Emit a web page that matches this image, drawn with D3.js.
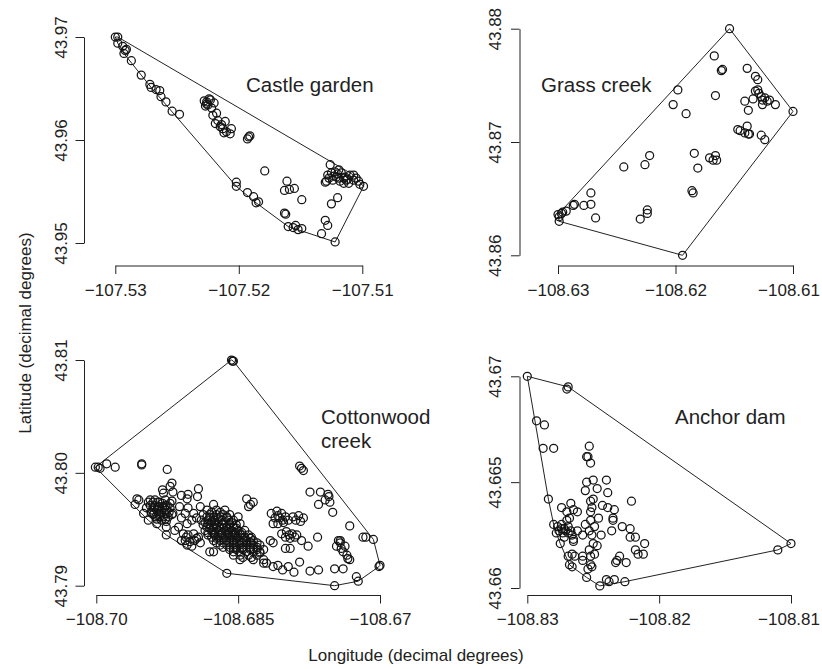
<!DOCTYPE html>
<html>
<head>
<meta charset="utf-8">
<script src="https://cdn.jsdelivr.net/npm/d3@7"></script>
<style>
  body { margin: 0; background: #fff; }
  svg { display: block; }
</style>
</head>
<body>
<svg id="chart" width="822" height="669"></svg>
<script>
// ===================================================================
// Data: [longitude, latitude] of each location

const castleGarden = [
  [-107.5300, 43.9700], [-107.5298, 43.9700], [-107.5298, 43.9694], [-107.5294, 43.9691],
  [-107.5292, 43.9687], [-107.5293, 43.9684], [-107.5291, 43.9688], [-107.5287, 43.9677],
  [-107.5279, 43.9663], [-107.5272, 43.9654], [-107.5271, 43.9651], [-107.5267, 43.9649],
  [-107.5264, 43.9648], [-107.5263, 43.9642], [-107.5259, 43.9637], [-107.5254, 43.9628],
  [-107.5248, 43.9625],
  [-107.5226, 43.9637], [-107.5225, 43.9634], [-107.5223, 43.9639], [-107.5227, 43.9633],
  [-107.5222, 43.9631], [-107.5221, 43.9624], [-107.5218, 43.9626], [-107.5217, 43.9619],
  [-107.5219, 43.9616], [-107.5214, 43.9615], [-107.5213, 43.9611], [-107.5210, 43.9608],
  [-107.5207, 43.9606], [-107.5206, 43.9611], [-107.5211, 43.9618], [-107.5215, 43.9613],
  [-107.5212, 43.9607], [-107.5228, 43.9638], [-107.5224, 43.9640], [-107.5226, 43.9635],
  [-107.5220, 43.9636],
  [-107.5192, 43.9603], [-107.5191, 43.9604], [-107.5193, 43.9601],
  [-107.5179, 43.9570], [-107.5202, 43.9559], [-107.5202, 43.9555],
  [-107.5193, 43.9549], [-107.5188, 43.9545], [-107.5184, 43.9540], [-107.5186, 43.9539],
  [-107.5161, 43.9560], [-107.5163, 43.9551], [-107.5159, 43.9552], [-107.5155, 43.9553],
  [-107.5149, 43.9542], [-107.5163, 43.9529], [-107.5162, 43.9528],
  [-107.5160, 43.9516], [-107.5156, 43.9515], [-107.5152, 43.9513], [-107.5149, 43.9514],
  [-107.5154, 43.9517], [-107.5133, 43.9509], [-107.5130, 43.9522], [-107.5128, 43.9517],
  [-107.5122, 43.9501], [-107.5125, 43.9538], [-107.5120, 43.9544],
  [-107.5126, 43.9576], [-107.5128, 43.9566], [-107.5129, 43.9560], [-107.5125, 43.9568],
  [-107.5124, 43.9561], [-107.5121, 43.9564], [-107.5118, 43.9560], [-107.5115, 43.9558],
  [-107.5113, 43.9561], [-107.5110, 43.9566], [-107.5107, 43.9561], [-107.5105, 43.9563],
  [-107.5103, 43.9560], [-107.5102, 43.9557], [-107.5099, 43.9555], [-107.5122, 43.9569],
  [-107.5119, 43.9571], [-107.5117, 43.9568], [-107.5114, 43.9564], [-107.5111, 43.9558],
  [-107.5130, 43.9559], [-107.5123, 43.9565], [-107.5119, 43.9563], [-107.5115, 43.9563],
  [-107.5107, 43.9566], [-107.5127, 43.9563], [-107.5120, 43.9567], [-107.5112, 43.9562]
]

const grassCreek = [
  [-108.6154, 43.8800], [-108.6100, 43.8727], [-108.6194, 43.8600], [-108.6299, 43.8630],
  [-108.6299, 43.8634], [-108.6300, 43.8636], [-108.6297, 43.8637], [-108.6296, 43.8638],
  [-108.6293, 43.8639], [-108.6287, 43.8644], [-108.6286, 43.8645], [-108.6278, 43.8644],
  [-108.6272, 43.8645], [-108.6272, 43.8655], [-108.6268, 43.8633], [-108.6244, 43.8678],
  [-108.6226, 43.8680], [-108.6222, 43.8688], [-108.6230, 43.8632], [-108.6224, 43.8640],
  [-108.6224, 43.8637], [-108.6202, 43.8733], [-108.6198, 43.8746], [-108.6191, 43.8725],
  [-108.6186, 43.8657], [-108.6185, 43.8655], [-108.6184, 43.8690], [-108.6181, 43.8677],
  [-108.6171, 43.8686], [-108.6168, 43.8684], [-108.6166, 43.8688], [-108.6165, 43.8684],
  [-108.6167, 43.8776], [-108.6160, 43.8764], [-108.6161, 43.8763], [-108.6166, 43.8741],
  [-108.6139, 43.8765], [-108.6132, 43.8758], [-108.6130, 43.8755], [-108.6130, 43.8746],
  [-108.6129, 43.8743], [-108.6127, 43.8740], [-108.6126, 43.8737], [-108.6124, 43.8739],
  [-108.6122, 43.8736], [-108.6120, 43.8737], [-108.6115, 43.8733], [-108.6134, 43.8738],
  [-108.6141, 43.8736], [-108.6138, 43.8728], [-108.6132, 43.8745], [-108.6126, 43.8733],
  [-108.6147, 43.8711], [-108.6145, 43.8710], [-108.6141, 43.8708], [-108.6138, 43.8707],
  [-108.6137, 43.8707], [-108.6139, 43.8714], [-108.6127, 43.8706], [-108.6124, 43.8702]
]

const cottonwoodCreek = [
  [-108.6856, 43.8099], [-108.6857, 43.8100], [-108.6855, 43.8099],
  [-108.7001, 43.8005], [-108.6998, 43.8005], [-108.6996, 43.8004], [-108.6989, 43.8008],
  [-108.6980, 43.8005], [-108.6952, 43.8008], [-108.6952, 43.8007], [-108.6925, 43.8003],
  [-108.6920, 43.7991], [-108.6922, 43.7988], [-108.6919, 43.7983], [-108.6930, 43.7985],
  [-108.6929, 43.7982], [-108.6892, 43.7986], [-108.6903, 43.7981], [-108.6893, 43.7979],
  [-108.6910, 43.7980], [-108.6904, 43.7977], [-108.6876, 43.7972], [-108.6841, 43.7977],
  [-108.6837, 43.7972], [-108.6834, 43.7974], [-108.6839, 43.7970],
  [-108.6959, 43.7972], [-108.6957, 43.7977], [-108.6955, 43.7976], [-108.6950, 43.7964],
  [-108.6947, 43.7969], [-108.6945, 43.7958], [-108.6936, 43.7955], [-108.6926, 43.7952],
  [-108.6926, 43.7945], [-108.6917, 43.7949], [-108.6910, 43.7940], [-108.6880, 43.7930],
  [-108.6862, 43.7911],
  [-108.6943, 43.7976], [-108.6938, 43.7976], [-108.6933, 43.7974], [-108.6927, 43.7976],
  [-108.6922, 43.7973], [-108.6943, 43.7971], [-108.6938, 43.7971], [-108.6933, 43.7970],
  [-108.6927, 43.7971], [-108.6922, 43.7969], [-108.6919, 43.7964], [-108.6941, 43.7967],
  [-108.6936, 43.7967], [-108.6931, 43.7966], [-108.6926, 43.7967], [-108.6920, 43.7963],
  [-108.6940, 43.7963], [-108.6934, 43.7963], [-108.6929, 43.7961], [-108.6924, 43.7961],
  [-108.6936, 43.7959], [-108.6931, 43.7958], [-108.6926, 43.7957],
  [-108.6940, 43.7974], [-108.6935, 43.7974], [-108.6930, 43.7973], [-108.6925, 43.7971],
  [-108.6939, 43.7969], [-108.6934, 43.7969], [-108.6928, 43.7969], [-108.6939, 43.7964],
  [-108.6933, 43.7964], [-108.6928, 43.7964], [-108.6923, 43.7965], [-108.6933, 43.7961],
  [-108.6945, 43.7974], [-108.6920, 43.7975], [-108.6937, 43.7961], [-108.6927, 43.7959],
  [-108.6942, 43.7965], [-108.6930, 43.7969], [-108.6935, 43.7970], [-108.6926, 43.7964],
  [-108.6912, 43.7970], [-108.6906, 43.7964], [-108.6903, 43.7969], [-108.6897, 43.7964],
  [-108.6890, 43.7970], [-108.6894, 43.7960], [-108.6910, 43.7960], [-108.6904, 43.7955],
  [-108.6899, 43.7958], [-108.6913, 43.7952],
  [-108.6908, 43.7946], [-108.6903, 43.7945], [-108.6897, 43.7946], [-108.6892, 43.7943],
  [-108.6906, 43.7940], [-108.6901, 43.7939], [-108.6896, 43.7940], [-108.6890, 43.7938],
  [-108.6899, 43.7935], [-108.6904, 43.7936], [-108.6905, 43.7943], [-108.6894, 43.7942],
  [-108.6883, 43.7967], [-108.6873, 43.7967], [-108.6864, 43.7967],
  [-108.6887, 43.7963], [-108.6880, 43.7963], [-108.6873, 43.7963], [-108.6866, 43.7963],
  [-108.6859, 43.7963],
  [-108.6889, 43.7958], [-108.6882, 43.7958], [-108.6875, 43.7958], [-108.6867, 43.7958],
  [-108.6860, 43.7958], [-108.6855, 43.7958],
  [-108.6887, 43.7954], [-108.6880, 43.7954], [-108.6873, 43.7954], [-108.6866, 43.7954],
  [-108.6859, 43.7954], [-108.6852, 43.7954],
  [-108.6885, 43.7949], [-108.6878, 43.7949], [-108.6871, 43.7949], [-108.6864, 43.7949],
  [-108.6857, 43.7949], [-108.6850, 43.7949], [-108.6843, 43.7949],
  [-108.6882, 43.7945], [-108.6875, 43.7945], [-108.6867, 43.7945], [-108.6860, 43.7945],
  [-108.6853, 43.7945], [-108.6846, 43.7945], [-108.6839, 43.7945],
  [-108.6876, 43.7940], [-108.6869, 43.7940], [-108.6862, 43.7940], [-108.6855, 43.7940],
  [-108.6848, 43.7940], [-108.6841, 43.7940], [-108.6834, 43.7940],
  [-108.6869, 43.7936], [-108.6862, 43.7936], [-108.6855, 43.7936], [-108.6848, 43.7936],
  [-108.6841, 43.7936], [-108.6834, 43.7936], [-108.6827, 43.7936],
  [-108.6859, 43.7932], [-108.6852, 43.7932], [-108.6845, 43.7932], [-108.6837, 43.7932],
  [-108.6830, 43.7932], [-108.6823, 43.7932],
  [-108.6855, 43.7927], [-108.6848, 43.7927], [-108.6839, 43.7927], [-108.6830, 43.7927],
  [-108.6848, 43.7923], [-108.6834, 43.7923], [-108.6823, 43.7923],
  [-108.6878, 43.7965], [-108.6869, 43.7965],
  [-108.6883, 43.7961], [-108.6876, 43.7961], [-108.6869, 43.7961], [-108.6862, 43.7961],
  [-108.6885, 43.7956], [-108.6878, 43.7956], [-108.6871, 43.7956], [-108.6864, 43.7956],
  [-108.6857, 43.7956],
  [-108.6883, 43.7952], [-108.6876, 43.7952], [-108.6869, 43.7952], [-108.6862, 43.7952],
  [-108.6855, 43.7952],
  [-108.6882, 43.7947], [-108.6875, 43.7947], [-108.6867, 43.7947], [-108.6860, 43.7947],
  [-108.6853, 43.7947], [-108.6846, 43.7947],
  [-108.6878, 43.7943], [-108.6871, 43.7943], [-108.6864, 43.7943], [-108.6857, 43.7943],
  [-108.6850, 43.7943], [-108.6843, 43.7943], [-108.6836, 43.7943],
  [-108.6873, 43.7938], [-108.6866, 43.7938], [-108.6859, 43.7938], [-108.6852, 43.7938],
  [-108.6845, 43.7938], [-108.6837, 43.7938], [-108.6830, 43.7938],
  [-108.6866, 43.7934], [-108.6859, 43.7934], [-108.6852, 43.7934], [-108.6845, 43.7934],
  [-108.6837, 43.7934], [-108.6830, 43.7934],
  [-108.6855, 43.7930], [-108.6848, 43.7930], [-108.6841, 43.7930], [-108.6834, 43.7930],
  [-108.6827, 43.7930],
  [-108.6845, 43.7925], [-108.6836, 43.7925],
  [-108.6880, 43.7960], [-108.6871, 43.7960], [-108.6862, 43.7960],
  [-108.6882, 43.7955], [-108.6875, 43.7955], [-108.6867, 43.7955], [-108.6859, 43.7955],
  [-108.6880, 43.7951], [-108.6873, 43.7951], [-108.6866, 43.7951], [-108.6859, 43.7951],
  [-108.6852, 43.7951],
  [-108.6876, 43.7946], [-108.6869, 43.7946], [-108.6862, 43.7946], [-108.6855, 43.7946],
  [-108.6848, 43.7946],
  [-108.6873, 43.7942], [-108.6866, 43.7942], [-108.6859, 43.7942], [-108.6852, 43.7942],
  [-108.6845, 43.7942], [-108.6837, 43.7942],
  [-108.6855, 43.7938], [-108.6846, 43.7938], [-108.6836, 43.7938],
  [-108.6855, 43.7933], [-108.6846, 43.7933], [-108.6834, 43.7933],
  [-108.6850, 43.7961], [-108.6848, 43.7955], [-108.6876, 43.7930], [-108.6823, 43.7920],
  [-108.6827, 43.7929],
  [-108.6815, 43.7964], [-108.6809, 43.7966], [-108.6804, 43.7964], [-108.6811, 43.7960],
  [-108.6806, 43.7960], [-108.6800, 43.7961], [-108.6813, 43.7955], [-108.6808, 43.7955],
  [-108.6802, 43.7956], [-108.6797, 43.7958], [-108.6808, 43.7962], [-108.6803, 43.7958],
  [-108.6804, 43.7946], [-108.6799, 43.7948], [-108.6793, 43.7946], [-108.6788, 43.7945],
  [-108.6800, 43.7943], [-108.6795, 43.7942], [-108.6790, 43.7943], [-108.6796, 43.7945],
  [-108.6792, 43.7961], [-108.6786, 43.7962], [-108.6781, 43.7960], [-108.6789, 43.7958],
  [-108.6784, 43.7957],
  [-108.6813, 43.7938], [-108.6800, 43.7933], [-108.6795, 43.7933], [-108.6820, 43.7920],
  [-108.6813, 43.7917], [-108.6808, 43.7918], [-108.6803, 43.7914], [-108.6797, 43.7917],
  [-108.6791, 43.7912], [-108.6783, 43.7940], [-108.6776, 43.7935], [-108.6785, 43.7921],
  [-108.6774, 43.7913], [-108.6765, 43.7914], [-108.6766, 43.7943], [-108.6816, 43.7940],
  [-108.6785, 43.8006], [-108.6783, 43.8004], [-108.6781, 43.8002], [-108.6774, 43.7983],
  [-108.6763, 43.7983], [-108.6755, 43.7981], [-108.6754, 43.7979], [-108.6758, 43.7976],
  [-108.6765, 43.7972], [-108.6753, 43.7974], [-108.6750, 43.7965], [-108.6732, 43.7953],
  [-108.6718, 43.7943], [-108.6715, 43.7943], [-108.6707, 43.7941], [-108.6701, 43.7917],
  [-108.6700, 43.7918], [-108.6723, 43.7904], [-108.6725, 43.7908], [-108.6748, 43.7900],
  [-108.6739, 43.7915], [-108.6748, 43.7915],
  [-108.6744, 43.7940], [-108.6742, 43.7938], [-108.6746, 43.7935], [-108.6741, 43.7933],
  [-108.6739, 43.7930], [-108.6735, 43.7927], [-108.6734, 43.7924], [-108.6732, 43.7923],
  [-108.6737, 43.7935], [-108.6742, 43.7940]
]

const anchorDam = [
  [-108.8300, 43.6700], [-108.8269, 43.6695], [-108.8270, 43.6694], [-108.8293, 43.6679],
  [-108.8287, 43.6677], [-108.8288, 43.6666], [-108.8280, 43.6666], [-108.8253, 43.6667],
  [-108.8255, 43.6662], [-108.8254, 43.6662], [-108.8252, 43.6659], [-108.8255, 43.6650],
  [-108.8250, 43.6651], [-108.8240, 43.6651], [-108.8256, 43.6646], [-108.8247, 43.6647],
  [-108.8239, 43.6645], [-108.8284, 43.6642], [-108.8221, 43.6641], [-108.8250, 43.6642],
  [-108.8252, 43.6641], [-108.8251, 43.6638], [-108.8252, 43.6636], [-108.8243, 43.6639],
  [-108.8239, 43.6638], [-108.8234, 43.6637], [-108.8235, 43.6633], [-108.8235, 43.6632],
  [-108.8274, 43.6638], [-108.8267, 43.6640], [-108.8270, 43.6636], [-108.8265, 43.6637],
  [-108.8262, 43.6636], [-108.8268, 43.6633], [-108.8270, 43.6632], [-108.8246, 43.6633],
  [-108.8252, 43.6632], [-108.8249, 43.6629], [-108.8253, 43.6627], [-108.8256, 43.6630],
  [-108.8258, 43.6625], [-108.8251, 43.6625], [-108.8244, 43.6625], [-108.8236, 43.6627],
  [-108.8228, 43.6629], [-108.8222, 43.6628], [-108.8222, 43.6624], [-108.8218, 43.6624],
  [-108.8211, 43.6621], [-108.8218, 43.6618], [-108.8216, 43.6616], [-108.8212, 43.6616],
  [-108.8275, 43.6621], [-108.8265, 43.6623], [-108.8266, 43.6616], [-108.8264, 43.6615],
  [-108.8250, 43.6621], [-108.8247, 43.6620], [-108.8249, 43.6616], [-108.8252, 43.6615],
  [-108.8268, 43.6611], [-108.8252, 43.6611], [-108.8251, 43.6610], [-108.8254, 43.6609],
  [-108.8230, 43.6615], [-108.8232, 43.6613], [-108.8233, 43.6612], [-108.8225, 43.6612],
  [-108.8255, 43.6605], [-108.8245, 43.6601], [-108.8240, 43.6604], [-108.8238, 43.6603],
  [-108.8234, 43.6604], [-108.8226, 43.6603], [-108.8258, 43.6615], [-108.8258, 43.6613],
  [-108.8253, 43.6618], [-108.8110, 43.6618], [-108.8100, 43.6621], [-108.8266, 43.6610],
  [-108.8269, 43.6615],
  [-108.8280, 43.6630], [-108.8277, 43.6629], [-108.8274, 43.6630], [-108.8272, 43.6628],
  [-108.8269, 43.6629], [-108.8267, 43.6627], [-108.8276, 43.6627], [-108.8273, 43.6626],
  [-108.8269, 43.6626], [-108.8266, 43.6625], [-108.8271, 43.6627], [-108.8274, 43.6628],
  [-108.8278, 43.6626], [-108.8262, 43.6627], [-108.8272, 43.6624], [-108.8265, 43.6622]
]

// Tick values and their printed labels
const castleLonTicks = [-107.53, -107.52, -107.51]
const castleLonLabels = ['\u2212107.53', '\u2212107.52', '\u2212107.51']
const castleLatTicks = [43.95, 43.96, 43.97]
const castleLatLabels = ['43.95', '43.96', '43.97']

const grassLonTicks = [-108.63, -108.62, -108.61]
const grassLonLabels = ['\u2212108.63', '\u2212108.62', '\u2212108.61']
const grassLatTicks = [43.86, 43.87, 43.88]
const grassLatLabels = ['43.86', '43.87', '43.88']

const cottonLonTicks = [-108.70, -108.685, -108.67]
const cottonLonLabels = ['\u2212108.70', '\u2212108.685', '\u2212108.67']
const cottonLatTicks = [43.79, 43.80, 43.81]
const cottonLatLabels = ['43.79', '43.80', '43.81']

const anchorLonTicks = [-108.83, -108.82, -108.81]
const anchorLonLabels = ['\u2212108.83', '\u2212108.82', '\u2212108.81']
const anchorLatTicks = [43.66, 43.665, 43.67]
const anchorLatLabels = ['43.66', '43.665', '43.67']

// ===================================================================

const WIDTH = 822
const HEIGHT = 669

const FONT = '"Liberation Sans", Arial, Helvetica, sans-serif'
const INK = '#222'
const TICK_SIZE = 8.5
const POINT_RADIUS = 4
const EDGE_PAD = 2

// Plot layout of each panel (pixel positions of first/last tick, axis lines, label)
const PANELS = [
  {
    points: castleGarden,
    lonTicks: castleLonTicks, lonLabels: castleLonLabels,
    latTicks: castleLatTicks, latLabels: castleLatLabels,
    xRange: [115.3, 362.3], yRange: [243, 37],
    yAxisAt: 84, xAxisAt: 265.5, latLabelGap: 17,
    name: ['Castle garden'], nameX: 246, nameY: 92
  },
  {
    points: grassCreek,
    lonTicks: grassLonTicks, lonLabels: grassLonLabels,
    latTicks: grassLatTicks, latLabels: grassLatLabels,
    xRange: [558, 793], yRange: [255.3, 28.7],
    yAxisAt: 519.5, xAxisAt: 265.5, latLabelGap: 18.5,
    name: ['Grass creek'], nameX: 541, nameY: 92
  },
  {
    points: cottonwoodCreek,
    lonTicks: cottonLonTicks, lonLabels: cottonLonLabels,
    latTicks: cottonLatTicks, latLabels: cottonLatLabels,
    xRange: [96.3, 380], yRange: [585.7, 360],
    yAxisAt: 84, xAxisAt: 595, latLabelGap: 17,
    name: ['Cottonwood', 'creek'], nameX: 321, nameY: 424
  },
  {
    points: anchorDam,
    lonTicks: anchorLonTicks, lonLabels: anchorLonLabels,
    latTicks: anchorLatTicks, latLabels: anchorLatLabels,
    xRange: [527.3, 791], yRange: [588, 376.3],
    yAxisAt: 519.5, xAxisAt: 595, latLabelGap: 18.5,
    name: ['Anchor dam'], nameX: 675, nameY: 424
  }
]

// ===================================================================

const svg = d3.select('#chart')
  .attr('width', WIDTH)
  .attr('height', HEIGHT)
  .style('font-family', FONT)

svg.append('rect')
  .attr('width', WIDTH)
  .attr('height', HEIGHT)
  .attr('fill', '#fff')

const drawPanel = panel => {
  const x = d3.scaleLinear()
    .domain([panel.lonTicks[0], panel.lonTicks[panel.lonTicks.length - 1]])
    .range(panel.xRange)
  const y = d3.scaleLinear()
    .domain([panel.latTicks[0], panel.latTicks[panel.latTicks.length - 1]])
    .range(panel.yRange)

  const g = svg.append('g')

  // Bottom axis
  const xAxis = g.append('g')
    .attr('transform', `translate(0, ${panel.xAxisAt})`)
    .call(d3.axisBottom(x)
      .tickValues(panel.lonTicks)
      .tickFormat((d, i) => panel.lonLabels[i])
      .tickSize(TICK_SIZE)
      .tickSizeOuter(0))
  xAxis.selectAll('text')
    .attr('y', 30)
    .attr('dy', null)
    .attr('font-size', 17)
    .attr('fill', INK)
    .each(function () {
      // keep the last label inside the page, as the device did
      const over = this.getBoundingClientRect().right - (WIDTH - EDGE_PAD)
      if (over > 0) {
        d3.select(this).attr('x', -over)
      }
    })

  // Left axis, labels turned parallel to it
  const yAxis = g.append('g')
    .attr('transform', `translate(${panel.yAxisAt}, 0)`)
    .call(d3.axisLeft(y)
      .tickValues(panel.latTicks)
      .tickFormat((d, i) => panel.latLabels[i])
      .tickSize(TICK_SIZE)
      .tickSizeOuter(0))
  yAxis.selectAll('text')
    .attr('transform', 'rotate(-90)')
    .attr('x', 0)
    .attr('y', -panel.latLabelGap)
    .attr('dy', null)
    .attr('text-anchor', 'middle')
    .attr('font-size', 17)
    .attr('fill', INK)

  g.selectAll('.domain, .tick line')
    .attr('stroke', INK)
    .attr('stroke-width', 1)

  // Convex hull round the locations
  const projected = panel.points.map(p => [x(p[0]), y(p[1])])
  const hull = d3.polygonHull(projected)
  g.append('path')
    .attr('d', `M${hull.join('L')}Z`)
    .attr('fill', 'none')
    .attr('stroke', INK)
    .attr('stroke-width', 1)

  g.append('g')
    .selectAll('circle')
    .data(panel.points)
    .join('circle')
      .attr('cx', d => x(d[0]))
      .attr('cy', d => y(d[1]))
      .attr('r', POINT_RADIUS)
      .attr('fill', 'none')
      .attr('stroke', '#141414')
      .attr('stroke-width', 1.25)

  g.append('text')
    .attr('x', panel.nameX)
    .attr('y', panel.nameY)
    .attr('font-size', 20.5)
    .attr('fill', INK)
    .selectAll('tspan')
    .data(panel.name)
    .join('tspan')
      .attr('x', panel.nameX)
      .attr('dy', (d, i) => i ? 24 : 0)
      .text(d => d)
}

PANELS.forEach(drawPanel)

// Shared axis titles
svg.append('text')
  .attr('transform', 'translate(31, 333) rotate(-90)')
  .attr('text-anchor', 'middle')
  .attr('font-size', 17)
  .attr('fill', INK)
  .text('Latitude (decimal degrees)')

svg.append('text')
  .attr('x', 416)
  .attr('y', 661)
  .attr('text-anchor', 'middle')
  .attr('font-size', 17)
  .attr('fill', INK)
  .text('Longitude (decimal degrees)')
</script>
</body>
</html>
